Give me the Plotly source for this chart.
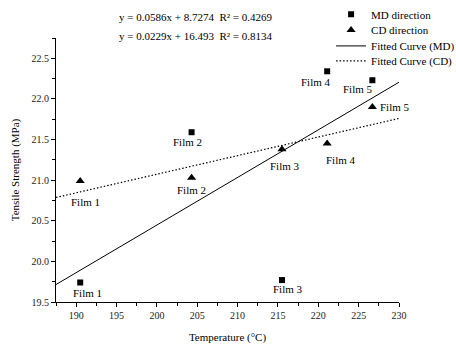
import plotly.graph_objects as go

# Processing temperature of each film (°C)
temperature = [190.5, 204.3, 215.5, 221.1, 226.7]
film_names = ["Film 1", "Film 2", "Film 3", "Film 4", "Film 5"]

# Tensile strength (MPa)
md_strength = [19.74, 21.59, 19.77, 22.34, 22.23]
cd_strength = [20.99, 21.03, 21.38, 21.45, 21.90]

# Linear fit coefficients (slope, intercept, R²)
md_fit = (0.0586, 8.7274, 0.4269)
cd_fit = (0.0229, 16.493, 0.8134)

x_range = [187.5, 230]
y_range = [19.5, 22.75]

FONT = "Liberation Serif, Times New Roman, serif"

fig = go.Figure()

fig.add_trace(go.Scatter(
    x=temperature, y=md_strength, mode="markers", name="MD direction",
    marker=dict(symbol="square", size=6, color="black"), legend="legend",
))
fig.add_trace(go.Scatter(
    x=temperature, y=cd_strength, mode="markers", name="CD direction",
    marker=dict(symbol="triangle-up", size=8, color="black"), legend="legend2",
))

fit_x = x_range
fig.add_trace(go.Scatter(
    x=fit_x, y=[md_fit[0] * v + md_fit[1] for v in fit_x], mode="lines",
    name="Fitted Curve (MD)", line=dict(color="black", width=1),
    legend="legend3",
))
fig.add_trace(go.Scatter(
    x=fit_x, y=[cd_fit[0] * v + cd_fit[1] for v in fit_x], mode="lines",
    name="Fitted Curve (CD)",
    line=dict(color="black", width=1.2, dash="1.5px,2px"),
    legend="legend4",
))

# Film labels, offset in pixels from their markers
md_offsets = [(7, -10), (-4, -10), (6, -9), (-11, -11), (-14, -9)]
cd_offsets = [(5, -21), (0, -12), (3, -17), (14, -16), (23, 0)]
for xs, ys, offs in ((temperature, md_strength, md_offsets),
                     (temperature, cd_strength, cd_offsets)):
    for xv, yv, name, (dx, dy) in zip(xs, ys, film_names, offs):
        fig.add_annotation(x=xv, y=yv, text=name, showarrow=False,
                           xshift=dx, yshift=dy,
                           font=dict(family=FONT, size=11, color="black"))

# Fit equations
for i, (a, b, r2) in enumerate((md_fit, cd_fit)):
    fig.add_annotation(
        xref="paper", yref="paper", x=0.178, y=1.08 - i * 0.072,
        xanchor="left", yanchor="middle", showarrow=False,
        text=f"y = {a}x + {b}\u00a0\u00a0R² = {r2}",
        font=dict(family=FONT, size=11, color="black"),
    )

axis_common = dict(
    showline=True, linecolor="black", linewidth=1, mirror=False,
    showgrid=False, zeroline=False, ticks="outside", ticklen=4,
    tickcolor="black", tickwidth=1,
    tickfont=dict(family=FONT, size=10, color="#222"),
    minor=dict(ticks="outside", ticklen=3, tickcolor="black", tickwidth=1),
)

fig.update_xaxes(range=x_range, tick0=190, dtick=5, minor_dtick=2.5,
                 title=dict(text="Temperature (°C)", standoff=14,
                            font=dict(family=FONT, size=11, color="black")),
                 **axis_common)
fig.update_yaxes(range=y_range, tick0=19.5, dtick=0.5, minor_dtick=0.25,
                 tickformat=".1f",
                 title=dict(text="Tensile Strength (MPa)", standoff=9,
                            font=dict(family=FONT, size=11, color="black")),
                 **axis_common)

# One single-entry legend per trace so the rows sit close together
legend_style = dict(x=0.802, xanchor="left", yanchor="middle",
                    bgcolor="rgba(0,0,0,0)", font=dict(family=FONT, size=11),
                    itemwidth=30)
legend_rows = [1.09, 1.03, 0.97, 0.913]

fig.update_layout(
    width=456, height=344,
    margin=dict(l=56, r=57, t=38, b=42, autoexpand=False),
    plot_bgcolor="white", paper_bgcolor="white",
    font=dict(family=FONT, size=11, color="black"),
    showlegend=True,
    legend=dict(y=legend_rows[0], **legend_style),
    legend2=dict(y=legend_rows[1], **legend_style),
    legend3=dict(y=legend_rows[2], **legend_style),
    legend4=dict(y=legend_rows[3], **legend_style),
)

fig.write_html("out.html")
